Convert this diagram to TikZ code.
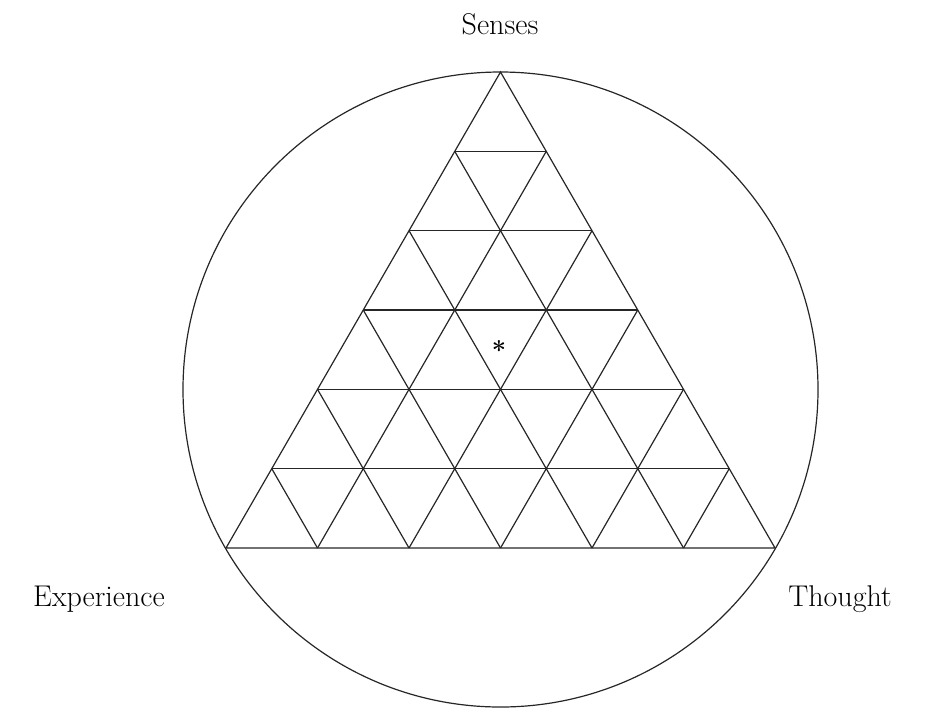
\documentclass[tikz,border=0pt]{standalone}
\begin{document}
\begin{tikzpicture}[x=0.75pt,y=-0.75pt,
  grid/.style={line width=0.9pt, black!85},
  lbl/.style={font=\fontsize{22.5}{26}\selectfont}]
\useasboundingbox (0,0) rectangle (931,708);
\def\ax{500.5}\def\ay{72}\def\h{79.33}\def\w{45.75}
% circle
\node[draw, circle, line width=0.9pt, black!85, minimum size=635*0.75pt, inner sep=0pt] (circ) at (\ax,389.5) {};
% outline
\coordinate (A) at (\ax,\ay);
\coordinate (B) at (226,548);
\coordinate (C) at (775,548);
\draw[grid] (A) -- (B) -- (C) -- cycle;
% horizontal lines
\foreach \i in {1,...,5}{
  \draw[grid] ({\ax-\i*\w},{\ay+\i*\h}) -- ({\ax+\i*\w},{\ay+\i*\h});
}
% diagonals
\foreach \k in {1,...,5}{
  \draw[grid] ({226+\k*91.5},548) -- ({\ax+\k*\w},{\ay+\k*\h});
  \draw[grid] ({226+\k*91.5},548) -- ({\ax-(6-\k)*\w},{\ay+(6-\k)*\h});
}
\node[font=\fontsize{19}{20}\selectfont\bfseries] (star) at (499,350) {*};
\node[lbl] (senses) at (500,24) {Senses};
\node[lbl] (exp) at (99,599) {Experience};
\node[lbl] (th) at (840,599) {Thought};
\end{tikzpicture}
\end{document}
